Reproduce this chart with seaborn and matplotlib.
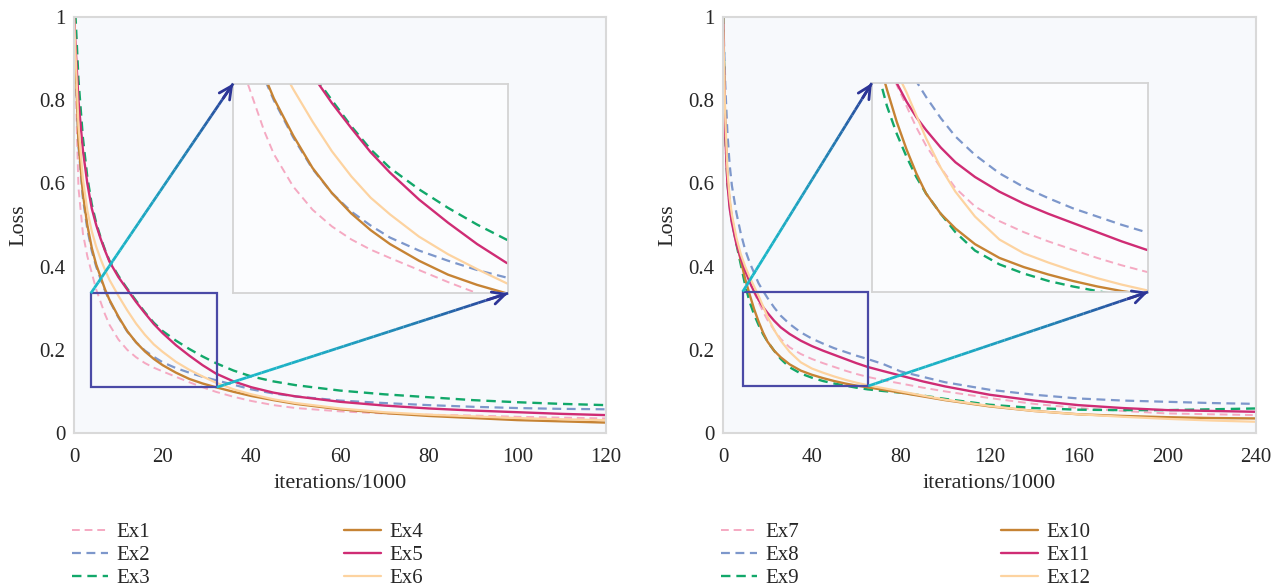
import numpy as np
import pandas as pd
import matplotlib
matplotlib.use("Agg")
import matplotlib.pyplot as plt
import seaborn as sns
from matplotlib.collections import LineCollection
from matplotlib.patches import Rectangle
from matplotlib.colors import to_rgb

# ---- data ----
x_left = [0, 1, 2, 3, 4, 5, 6, 7, 8, 10, 12, 14, 16, 18, 20, 23, 26, 29, 32, 36, 40, 45, 50, 60, 70, 80, 90, 100, 110, 120]
ex1 = [0.98, 0.59, 0.48, 0.425, 0.385, 0.345, 0.315, 0.285, 0.26, 0.225, 0.2, 0.182, 0.168, 0.157, 0.148, 0.135, 0.122, 0.11, 0.099, 0.087, 0.077, 0.067, 0.06, 0.052, 0.047, 0.044, 0.042, 0.039, 0.037, 0.035]
ex2 = [1.0, 0.69, 0.565, 0.49, 0.438, 0.4, 0.37, 0.342, 0.318, 0.278, 0.244, 0.218, 0.198, 0.183, 0.17, 0.156, 0.145, 0.135, 0.127, 0.116, 0.105, 0.095, 0.088, 0.078, 0.072, 0.067, 0.063, 0.06, 0.058, 0.057]
ex3 = [1.08, 0.85, 0.71, 0.615, 0.55, 0.505, 0.47, 0.44, 0.414, 0.378, 0.347, 0.318, 0.29, 0.265, 0.245, 0.222, 0.202, 0.184, 0.168, 0.15, 0.136, 0.124, 0.115, 0.102, 0.093, 0.086, 0.079, 0.074, 0.07, 0.067]
ex4 = [1.0, 0.7, 0.575, 0.5, 0.445, 0.405, 0.375, 0.345, 0.32, 0.28, 0.245, 0.218, 0.196, 0.178, 0.163, 0.145, 0.13, 0.119, 0.11, 0.099, 0.089, 0.079, 0.07, 0.057, 0.048, 0.041, 0.036, 0.031, 0.028, 0.025]
ex5 = [1.0, 0.8, 0.68, 0.6, 0.54, 0.5, 0.467, 0.438, 0.412, 0.375, 0.345, 0.315, 0.288, 0.262, 0.24, 0.211, 0.186, 0.163, 0.143, 0.124, 0.11, 0.097, 0.088, 0.075, 0.066, 0.059, 0.054, 0.05, 0.046, 0.043]
ex6 = [1.0, 0.74, 0.61, 0.535, 0.485, 0.448, 0.418, 0.392, 0.368, 0.33, 0.295, 0.263, 0.236, 0.213, 0.195, 0.171, 0.152, 0.136, 0.121, 0.105, 0.093, 0.081, 0.072, 0.059, 0.05, 0.044, 0.04, 0.036, 0.033, 0.031]

x_right = [0, 1, 2, 3, 4, 6, 8, 10, 12, 14, 16, 18, 20, 23, 26, 30, 35, 40, 45, 50, 55, 60, 65, 72, 80, 90, 100, 120, 140, 160, 180, 200, 220, 240]
ex7 = [1.0, 0.75, 0.62, 0.56, 0.52, 0.465, 0.425, 0.39, 0.362, 0.338, 0.315, 0.292, 0.272, 0.248, 0.226, 0.206, 0.19, 0.178, 0.168, 0.159, 0.15, 0.142, 0.135, 0.127, 0.119, 0.109, 0.1, 0.084, 0.07, 0.06, 0.053, 0.047, 0.045, 0.043]
ex8 = [1.02, 0.84, 0.72, 0.645, 0.595, 0.53, 0.48, 0.44, 0.41, 0.385, 0.36, 0.342, 0.325, 0.302, 0.282, 0.262, 0.242, 0.227, 0.215, 0.204, 0.195, 0.186, 0.178, 0.166, 0.148, 0.135, 0.122, 0.104, 0.092, 0.083, 0.078, 0.075, 0.072, 0.07]
ex9 = [1.05, 0.72, 0.6, 0.55, 0.51, 0.455, 0.405, 0.355, 0.315, 0.285, 0.26, 0.238, 0.22, 0.198, 0.178, 0.158, 0.143, 0.133, 0.125, 0.119, 0.114, 0.109, 0.105, 0.101, 0.097, 0.09, 0.082, 0.068, 0.06, 0.056, 0.055, 0.055, 0.057, 0.059]
ex10 = [1.0, 0.74, 0.61, 0.555, 0.515, 0.46, 0.415, 0.37, 0.333, 0.298, 0.268, 0.242, 0.22, 0.198, 0.182, 0.165, 0.15, 0.14, 0.132, 0.125, 0.119, 0.114, 0.11, 0.104, 0.097, 0.088, 0.079, 0.064, 0.053, 0.045, 0.041, 0.038, 0.036, 0.035]
ex11 = [1.0, 0.72, 0.6, 0.54, 0.505, 0.455, 0.42, 0.39, 0.363, 0.34, 0.32, 0.303, 0.289, 0.27, 0.254, 0.238, 0.222, 0.209, 0.198, 0.188, 0.178, 0.168, 0.159, 0.149, 0.138, 0.124, 0.112, 0.092, 0.078, 0.067, 0.06, 0.055, 0.053, 0.051]
ex12 = [1.0, 0.76, 0.63, 0.565, 0.525, 0.47, 0.43, 0.4, 0.375, 0.352, 0.33, 0.305, 0.28, 0.248, 0.222, 0.195, 0.17, 0.155, 0.145, 0.136, 0.128, 0.121, 0.115, 0.108, 0.1, 0.09, 0.08, 0.065, 0.053, 0.045, 0.039, 0.034, 0.03, 0.027]

left_names = ["Ex1", "Ex2", "Ex3", "Ex4", "Ex5", "Ex6"]
right_names = ["Ex7", "Ex8", "Ex9", "Ex10", "Ex11", "Ex12"]

# zoom boxes (x0, x1, y0, y1) and where the magnified view sits
left_box = (3.8, 32.2, 0.11, 0.336)
left_inset = (35.9, 97.9, 0.336, 0.84)
right_box = (8.9, 65.4, 0.113, 0.34)
right_inset = (67.0, 191.4, 0.339, 0.841)

colors = ["#f5a9c2", "#7d97cb", "#12a86a", "#c68334", "#cf2c74", "#fdd3a0"]
dash = (0, (4, 2.5))
styles = [dash, dash, dash, "-", "-", "-"]
widths = [1.4, 1.6, 1.7, 1.7, 1.7, 1.6]

sns.set_style("white")
plt.rcParams["font.family"] = ["Liberation Serif", "DejaVu Serif"]
plt.rcParams["font.size"] = 15

fig = plt.figure(figsize=(12.74, 5.88), dpi=100)
ax1 = fig.add_axes([0.0581, 0.2636, 0.4176, 0.7075])
ax2 = fig.add_axes([0.5675, 0.2636, 0.4184, 0.7075])

bg = "#f7f9fc"
frame = "#d9d9d9"


def draw_lines(ax, xs, series, names, legend=True):
    for ys, name, c, ls, lw in zip(series, names, colors, styles, widths):
        sns.lineplot(x=xs, y=ys, ax=ax, color=c, linestyle=ls, linewidth=lw,
                     label=name if legend else None, legend=False)


def gradient_arrow(ax, p0, p1):
    c0 = np.array(to_rgb("#1cb8c8"))
    c1 = np.array(to_rgb("#2d3597"))
    t = np.linspace(0, 1, 40)
    pts = np.column_stack([p0[0] + (p1[0] - p0[0]) * t, p0[1] + (p1[1] - p0[1]) * t])
    segs = np.stack([pts[:-1], pts[1:]], axis=1)
    tc = t[:-1] ** 2
    cols = [c0 * (1 - k) + c1 * k for k in tc]
    lc = LineCollection(segs, colors=cols, linewidths=2.0, zorder=6)
    ax.add_collection(lc)
    tail = (p0[0] + (p1[0] - p0[0]) * 0.93, p0[1] + (p1[1] - p0[1]) * 0.93)
    ax.annotate("", xy=p1, xytext=tail,
                arrowprops=dict(arrowstyle="->,head_length=0.6,head_width=0.3",
                                color="#2d3597", lw=2.0, shrinkA=0, shrinkB=0),
                zorder=7)


def panel(ax, xs, series, names, xmax, xstep, box, ins, colspace):
    ax.set_facecolor(bg)
    draw_lines(ax, xs, series, names)
    ax.set_xlim(0, xmax)
    ax.set_ylim(0, 1)
    ax.set_xticks(np.arange(0, xmax + 1, xstep))
    yt = [0, 0.2, 0.4, 0.6, 0.8, 1]
    ax.set_yticks(yt)
    ax.set_yticklabels([f"{v:g}" for v in yt])
    ax.tick_params(direction="in", length=4, width=1, color="#c8c8c8", labelsize=15)
    ax.tick_params(axis="x", pad=11)
    ax.tick_params(axis="y", pad=6)
    for s in ax.spines.values():
        s.set_color(frame)
        s.set_linewidth(1.5)
    ax.set_xlabel("iterations/1000", fontsize=16, labelpad=5)
    ax.set_ylabel("Loss", fontsize=16, labelpad=8)

    # magnified view
    iax = ax.inset_axes([ins[0], ins[2], ins[1] - ins[0], ins[3] - ins[2]], transform=ax.transData)
    iax.set_facecolor("#fbfcfe")
    draw_lines(iax, xs, series, names, legend=False)
    iax.set_xlim(box[0], box[1])
    iax.set_ylim(box[2], box[3])
    iax.set_xticks([])
    iax.set_yticks([])
    iax.set_xlabel("")
    iax.set_ylabel("")
    for s in iax.spines.values():
        s.set_color("#d4d4d4")
        s.set_linewidth(1.3)

    ax.add_patch(Rectangle((box[0], box[2]), box[1] - box[0], box[3] - box[2],
                           fill=False, edgecolor="#4a4aa6", lw=1.6, zorder=5))
    gradient_arrow(ax, (box[0], box[3]), (ins[0], ins[3]))
    gradient_arrow(ax, (box[1], box[2]), (ins[1], ins[2]))

    ax.legend(ncol=2, loc="upper left", bbox_to_anchor=(-0.004, -0.216), frameon=False,
              fontsize=15, handlelength=1.75, handletextpad=0.4, labelspacing=0.16,
              columnspacing=colspace, borderaxespad=0, borderpad=0)


panel(ax1, x_left, [ex1, ex2, ex3, ex4, ex5, ex6], left_names, 120, 20, left_box, left_inset, 9.3)
panel(ax2, x_right, [ex7, ex8, ex9, ex10, ex11, ex12], right_names, 240, 40, right_box, right_inset, 9.7)

fig.savefig("out.png", dpi=100)
